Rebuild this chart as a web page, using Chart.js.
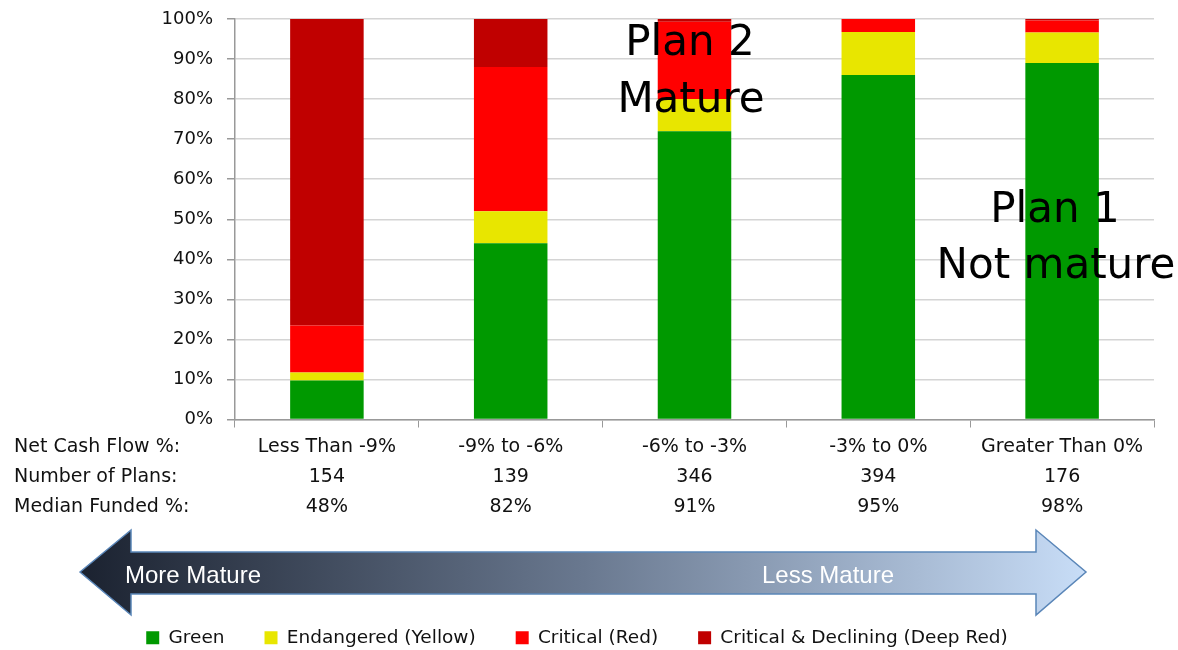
<!DOCTYPE html>
<html>
<head>
<meta charset="utf-8">
<script src="https://cdn.jsdelivr.net/npm/chart.js@4.4.0/dist/chart.umd.min.js"></script>
<style>
  html, body { margin: 0; padding: 0; background: #fff; }
  #wrap { position: relative; width: 1178px; height: 650px; }
</style>
</head>
<body>
<div id="wrap"><canvas id="chart"></canvas></div>
<script>
// categories and table rows under the axis
const categories = ['Less Than -9%', '-9% to -6%', '-6% to -3%', '-3% to 0%', 'Greater Than 0%'];
const numberOfPlans = ['154', '139', '346', '394', '176'];
const medianFunded = ['48%', '82%', '91%', '95%', '98%'];
const rowHeaders = ['Net Cash Flow %:', 'Number of Plans:', 'Median Funded %:'];

// share of plans in each zone (%)
const greenZone = [9.75, 44, 72, 86, 89];
const yellowZone = [2, 8, 8, 10.75, 7.6];
const redZone = [11.75, 36, 19.3, 3.25, 3];
const deepRedZone = [76.5, 12, 0.7, 0, 0.4];

const seriesNames = ['Green', 'Endangered (Yellow)', 'Critical (Red)', 'Critical & Declining (Deep Red)'];
const seriesColors = ['#009900', '#e8e600', '#ff0000', '#c00000'];

const FONT = '"DejaVu Sans", Verdana, sans-serif';

// overlay text, arrow and the row headers
const overlayPlugin = {
    id: 'overlay',
    afterDraw(chart) {
        const ctx = chart.ctx;
        const x = chart.scales.x;
        ctx.save();

        // row headers of the little table
        ctx.fillStyle = '#111';
        ctx.font = '19px ' + FONT;
        ctx.textAlign = 'left';
        ctx.textBaseline = 'middle';
        rowHeaders.forEach((h, i) => {
            ctx.fillText(h, 14, x.top + 28 + i * 30);
        });

        // maturity arrow
        const g = ctx.createLinearGradient(80, 0, 1086, 0);
        g.addColorStop(0, '#1b2230');
        g.addColorStop(0.5, '#69788f');
        g.addColorStop(1, '#c8ddf7');
        ctx.beginPath();
        ctx.moveTo(80, 572);
        ctx.lineTo(131, 530);
        ctx.lineTo(131, 552);
        ctx.lineTo(1036, 552);
        ctx.lineTo(1036, 530);
        ctx.lineTo(1086, 572);
        ctx.lineTo(1036, 615);
        ctx.lineTo(1036, 594);
        ctx.lineTo(131, 594);
        ctx.lineTo(131, 615);
        ctx.closePath();
        ctx.fillStyle = g;
        ctx.fill();
        ctx.lineWidth = 1.5;
        ctx.strokeStyle = '#5a86b8';
        ctx.stroke();

        ctx.fillStyle = '#fff';
        ctx.font = '24px "Liberation Sans", Arial, sans-serif';
        ctx.textBaseline = 'alphabetic';
        ctx.fillText('More Mature', 125, 583);
        ctx.fillText('Less Mature', 762, 583);

        // plan annotations
        ctx.fillStyle = '#000';
        ctx.font = '42px ' + FONT;
        ctx.textAlign = 'center';
        ctx.fillText('Plan 2', 690, 55);
        ctx.fillText('Mature', 691, 112);
        ctx.fillText('Plan 1', 1055, 222);
        ctx.fillText('Not mature', 1056, 278);

        ctx.restore();
    }
};

const datasets = [greenZone, yellowZone, redZone, deepRedZone].map((d, i) => ({
    label: seriesNames[i],
    data: d,
    backgroundColor: seriesColors[i],
    borderWidth: 0,
    barPercentage: 0.5,
    categoryPercentage: 0.8,
}));

new Chart(document.getElementById('chart'), {
    type: 'bar',
    data: { labels: categories, datasets: datasets },
    options: {
        responsive: true,
        maintainAspectRatio: false,
        animation: false,
        layout: { padding: { left: 0, right: 24, top: 19, bottom: -7 } },
        scales: {
            x: {
                stacked: true,
                grid: { drawOnChartArea: false, drawTicks: true, tickLength: 8, tickColor: '#999', offset: true },
                border: { color: '#999', width: 1.5 },
                ticks: {
                    color: '#111',
                    font: { family: FONT, size: 19, lineHeight: 30 / 19 },
                    padding: 5,
                    maxRotation: 0,
                    autoSkip: false,
                    callback: (v, i) => [categories[i], numberOfPlans[i], medianFunded[i]],
                },
                afterFit: (axis) => { axis.height = 169; },
            },
            y: {
                stacked: true,
                min: 0,
                max: 100,
                grid: { color: '#d4d4d4', lineWidth: 1.5, tickLength: 8, tickColor: '#999' },
                border: { color: '#999', width: 1.5 },
                ticks: {
                    stepSize: 10,
                    color: '#111',
                    font: { family: FONT, size: 18 },
                    padding: 14,
                    callback: (v) => v + '%',
                },
                afterFit: (axis) => {
                    axis.width = 235;
                    axis.paddingTop = 0;
                    axis.paddingBottom = 0;
                },
            },
        },
        plugins: {
            legend: {
                position: 'bottom',
                labels: {
                    boxWidth: 13,
                    boxHeight: 13,
                    padding: 40,
                    color: '#111',
                    font: { family: FONT, size: 18.5 },
                },
            },
            tooltip: { enabled: false },
        },
    },
    plugins: [overlayPlugin],
});
</script>
</body>
</html>
